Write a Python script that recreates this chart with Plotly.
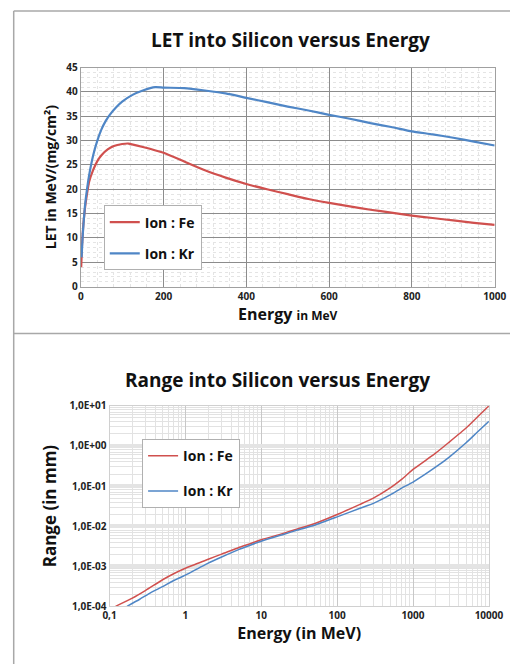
import plotly.graph_objects as go

# --- LET into silicon (MeV/(mg/cm2)) versus energy (MeV) ---
let_energy_fe = [1, 3, 6, 10, 15, 20, 30, 40, 50, 65, 80, 100, 115, 150, 200, 250, 300, 350, 400, 450, 500, 550, 600, 650, 700, 750, 800, 850, 900, 950, 1000]
let_fe = [4.0, 8.5, 12.5, 16.0, 19.0, 21.5, 24.0, 25.8, 27.0, 28.2, 28.9, 29.3, 29.4, 28.7, 27.5, 25.7, 23.9, 22.4, 21.1, 20.0, 19.0, 18.0, 17.2, 16.5, 15.8, 15.2, 14.6, 14.1, 13.6, 13.1, 12.7]

let_energy_kr = [2, 5, 10, 15, 20, 30, 40, 50, 60, 70, 85, 100, 125, 150, 180, 200, 250, 300, 350, 400, 450, 500, 550, 600, 650, 700, 750, 800, 850, 900, 950, 1000]
let_kr = [6.0, 11.0, 16.5, 20.0, 22.8, 27.0, 30.0, 32.3, 34.0, 35.3, 36.8, 38.0, 39.4, 40.3, 41.0, 40.9, 40.8, 40.3, 39.7, 38.8, 37.9, 37.0, 36.2, 35.3, 34.5, 33.6, 32.8, 31.9, 31.3, 30.6, 29.8, 29.0]

# --- Range into silicon (mm) versus energy (MeV) ---
range_energy_fe = [0.12, 0.2, 0.3, 0.5, 0.7, 1, 1.5, 2, 3, 5, 7, 10, 20, 30, 50, 100, 200, 300, 500, 700, 1000, 2000, 3000, 5000, 7000, 10000]
range_fe = [1.0e-4, 1.6e-4, 2.5e-4, 4.6e-4, 6.5e-4, 8.9e-4, 1.2e-3, 1.5e-3, 2.0e-3, 2.9e-3, 3.6e-3, 4.6e-3, 6.7e-3, 8.5e-3, 1.15e-2, 1.95e-2, 3.5e-2, 5.0e-2, 9.0e-2, 1.45e-1, 2.6e-1, 6.7e-1, 1.25, 2.8, 5.2, 10.0]

range_energy_kr = [0.17, 0.25, 0.35, 0.5, 0.7, 1, 1.5, 2, 3, 5, 7, 10, 20, 30, 50, 100, 200, 300, 500, 700, 1000, 2000, 3000, 5000, 7000, 10000]
range_kr = [1.0e-4, 1.5e-4, 2.2e-4, 3.1e-4, 4.4e-4, 6.0e-4, 9.0e-4, 1.2e-3, 1.7e-3, 2.6e-3, 3.3e-3, 4.2e-3, 6.3e-3, 8.0e-3, 1.05e-2, 1.7e-2, 2.8e-2, 3.7e-2, 6.0e-2, 8.8e-2, 1.26e-1, 3.0e-1, 5.3e-1, 1.2, 2.2, 4.1]

range_tickvals = [1e-4, 1e-3, 1e-2, 1e-1, 1e0, 1e1]
range_ticktext = ["1,0E-04", "1,0E-03", "1,0E-02", "1,0E-01", "1,0E+00", "1,0E+01"]
energy_tickvals = [0.1, 1, 10, 100, 1000, 10000]
energy_ticktext = ["0,1", "1", "10", "100", "1000", "10000"]

RED = "#d0504e"
BLUE = "#4f86c6"
FONT = "Open Sans, Liberation Sans, sans-serif"
W, H = 525, 671

fig = go.Figure()

fig.add_trace(go.Scatter(x=let_energy_fe, y=let_fe, mode="lines", name="Ion : Fe", legendgroup="fe",
                         line=dict(color=RED, width=2.2, shape="spline", smoothing=0.5),
                         xaxis="x", yaxis="y", legend="legend"))
fig.add_trace(go.Scatter(x=let_energy_kr, y=let_kr, mode="lines", name="Ion : Kr", legendgroup="kr",
                         line=dict(color=BLUE, width=2.2, shape="spline", smoothing=0.5),
                         xaxis="x", yaxis="y", legend="legend"))
fig.add_trace(go.Scatter(x=range_energy_fe, y=range_fe, mode="lines", name="Ion : Fe", legendgroup="fe2",
                         line=dict(color=RED, width=1.5, shape="spline", smoothing=0.5),
                         xaxis="x2", yaxis="y2", legend="legend2"))
fig.add_trace(go.Scatter(x=range_energy_kr, y=range_kr, mode="lines", name="Ion : Kr", legendgroup="kr2",
                         line=dict(color=BLUE, width=1.5, shape="spline", smoothing=0.5),
                         xaxis="x2", yaxis="y2", legend="legend2"))


def px_x(p):
    return p / W


def px_y(p):
    return 1 - p / H


tick_font = dict(family=FONT, size=10, color="#222", weight="bold")
log_tick_font = dict(family=FONT, size=10, color="#222", weight="bold")

fig.update_layout(
    width=W, height=H,
    margin=dict(l=0, r=0, t=0, b=0),
    paper_bgcolor="white", plot_bgcolor="white",
    showlegend=True,
    xaxis=dict(
        domain=[px_x(77), px_x(509)], anchor="y",
        range=[0, 1000], dtick=200, tick0=0,
        showgrid=True, gridcolor="#8c8c8c", gridwidth=1,
        minor=dict(dtick=40, showgrid=True, gridcolor="#e4e4e4", griddash="dot", gridwidth=1),
        showline=True, linecolor="#a0a0a0", mirror=True,
        ticks="", tickfont=tick_font, zeroline=False,
        title=dict(text="Energy <span style='font-size:12px'>in MeV</span>", font=dict(family=FONT, size=16, color="#111", weight="bold"), standoff=6),
    ),
    yaxis=dict(
        domain=[px_y(285), px_y(61)], anchor="x",
        range=[0, 45], dtick=5, tick0=0,
        showgrid=True, gridcolor="#8c8c8c", gridwidth=1,
        minor=dict(dtick=1, showgrid=True, gridcolor="#e4e4e4", griddash="dot", gridwidth=1),
        showline=True, linecolor="#a0a0a0", mirror=True,
        ticks="", tickfont=tick_font, zeroline=False,
        title=dict(text="LET in MeV/(mg/cm²)", font=dict(family=FONT, size=14, color="#111", weight="bold"), standoff=6),
    ),
    xaxis2=dict(
        domain=[px_x(107), px_x(503)], anchor="y2",
        type="log", range=[-1, 4],
        tickvals=energy_tickvals, ticktext=energy_ticktext,
        showgrid=True, gridcolor="#c8c8c8", gridwidth=1,
        minor=dict(showgrid=True, gridcolor="#e2e2e2", gridwidth=1, dtick="D1"),
        showline=True, linecolor="#d0d0d0", mirror=True,
        ticks="", tickfont=log_tick_font, zeroline=False,
        title=dict(text="Energy (in MeV)", font=dict(family=FONT, size=16, color="#111", weight="bold"), standoff=6),
    ),
    yaxis2=dict(
        domain=[px_y(612), px_y(407)], anchor="x2",
        type="log", range=[-4, 1],
        tickvals=range_tickvals, ticktext=range_ticktext,
        showgrid=True, gridcolor="#e4e4e4", gridwidth=4,
        minor=dict(showgrid=True, gridcolor="#e2e2e2", gridwidth=1, dtick="D1"),
        showline=True, linecolor="#d0d0d0", mirror=True,
        ticks="", tickfont=log_tick_font, zeroline=False,
        title=dict(text="Range (in mm)", font=dict(family=FONT, size=17, color="#111", weight="bold"), standoff=8),
    ),
    legend=dict(
        x=px_x(101), y=px_y(202), xanchor="left", yanchor="top",
        bgcolor="white", bordercolor="#b0b0b0", borderwidth=1,
        font=dict(family=FONT, size=14, color="#111", weight="bold"),
        tracegroupgap=10,
    ),
    legend2=dict(
        x=px_x(141), y=px_y(441), xanchor="left", yanchor="top",
        bgcolor="white", bordercolor="#b0b0b0", borderwidth=1,
        font=dict(family=FONT, size=14, color="#111", weight="bold"),
        tracegroupgap=14,
    ),
    annotations=[
        dict(text="LET into Silicon versus Energy", x=px_x(296), y=px_y(33),
             xref="paper", yref="paper", xanchor="center", yanchor="middle", showarrow=False,
             font=dict(family=FONT, size=19, color="#111", weight="bold")),
        dict(text="Range into Silicon versus Energy", x=px_x(282), y=px_y(380),
             xref="paper", yref="paper", xanchor="center", yanchor="middle", showarrow=False,
             font=dict(family=FONT, size=19, color="#111", weight="bold")),
    ],
    shapes=[
        # panel frames
        dict(type="line", xref="paper", yref="paper", x0=px_x(7), x1=1, y0=px_y(3), y1=px_y(3),
             line=dict(color="#a8a8a8", width=1.5)),
        dict(type="line", xref="paper", yref="paper", x0=px_x(7), x1=1, y0=px_y(333), y1=px_y(333),
             line=dict(color="#a8a8a8", width=1.5)),
        dict(type="line", xref="paper", yref="paper", x0=px_x(7), x1=px_x(7), y0=px_y(3), y1=0,
             line=dict(color="#a8a8a8", width=1.5)),
    ],
)

fig.write_html("out.html", post_script="document.body.style.margin='0';")
